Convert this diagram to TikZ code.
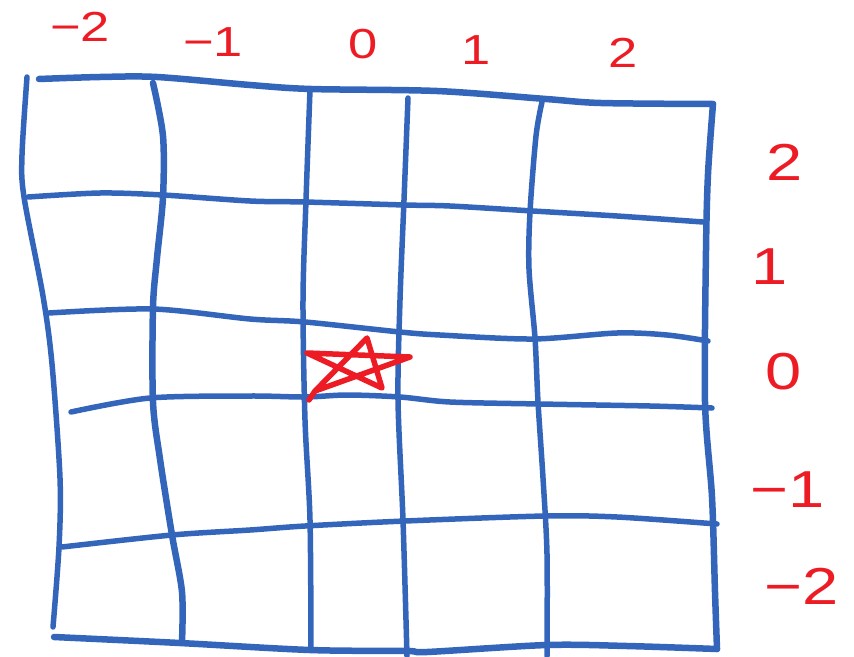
\documentclass[tikz,border=0pt]{standalone}
\usepackage{fontspec}
\setmainfont{Liberation Sans}
\definecolor{gridblue}{HTML}{3366BB}
\definecolor{inkred}{HTML}{ED1C24}
\tikzset{
  gline/.style={draw=gridblue, line width=5.5pt, line cap=round, line join=round},
  bline/.style={gline, line width=6.5pt},
  toplab/.style={text=inkred, font=\fontsize{42}{42}\selectfont, inner sep=0pt},
  sidelab/.style={text=inkred, font=\fontsize{52}{52}\selectfont, inner sep=0pt},
  starpath/.style={draw=inkred, line width=5.5pt, line cap=round, line join=round}
}
\newcommand{\wide}[1]{\scalebox{1.25}[1]{#1}}
\begin{document}
\begin{tikzpicture}[x=1pt,y=-1pt]
\useasboundingbox (0,0) rectangle (854,656);
% borders
\draw[gline] plot[smooth] coordinates {(27,77) (22,155) (24,197) (43,296) (52,364) (60,478) (59,547) (53,627)};
\draw[bline] plot[smooth] coordinates {(39,79) (100,77) (157,77) (250,85) (311,89) (437,91) (546,99) (601,103) (713,104)};
\draw[bline] plot[smooth] coordinates {(713,104) (708,174) (706,250) (705,402) (712,497) (715,592) (717,649)};
\draw[bline] plot[smooth] coordinates {(54,637) (180,643) (310,650) (407,651) (427,652) (547,645) (627,646) (717,649)};
% horizontals
\draw[gline] plot[smooth] coordinates {(28,197) (100,193) (163,195) (250,201) (305,202) (405,205) (450,206) (533,211) (617,216) (703,222)};
\draw[gline] plot[smooth] coordinates {(49,313) (153,309) (250,319) (305,322) (400,332) (440,335) (533,339) (617,333) (667,335) (708,341)};
\draw[gline] plot[smooth] coordinates {(71,412) (150,398) (250,396) (305,397) (347,395) (400,397) (450,402) (540,404) (650,406) (712,408)};
\draw[gline] plot[smooth] coordinates {(62,547) (172,535) (250,530) (305,526) (405,521) (545,516) (617,517) (717,524)};
% verticals
\draw[bline] plot[smooth] coordinates {(153,83) (163,136) (163,197) (157,258) (153,307) (153,402) (160,459) (172,535) (182,592) (182,642)};
\draw[gline] plot[smooth] coordinates {(310,90) (306,200) (303,300) (305,420) (310,520) (311,650)};
\draw[gline] plot[smooth] coordinates {(408,98) (404,200) (400,300) (398,400) (403,520) (407,656)};
\draw[gline] plot[smooth] coordinates {(542,102) (536,136) (530,212) (529,269) (535,338) (538,402) (543,478) (547,554) (547,656)};
% star
\draw[starpath] (309,400) -- (315,391) -- (367,338) -- (382,388) -- (307,353) -- (410,357) -- (315,391);
% top labels
\node[toplab] (tm2) at (80,27) {\wide{−2}};
\node[toplab] (tm1) at (213,42) {\wide{−1}};
\node[toplab] (t0) at (363,44) {\wide{0}};
\node[toplab] (t1) at (476,50) {\wide{1}};
\node[toplab] (t2) at (623,53) {\wide{2}};
% side labels
\node[sidelab] (s2) at (785,162) {\wide{2}};
\node[sidelab] (s1) at (770,267) {\wide{1}};
\node[sidelab] (s0) at (784,372) {\wide{0}};
\node[sidelab] (sm1) at (788,490) {\wide{−1}};
\node[sidelab] (sm2) at (802,586) {\wide{−2}};
\end{tikzpicture}
\end{document}
